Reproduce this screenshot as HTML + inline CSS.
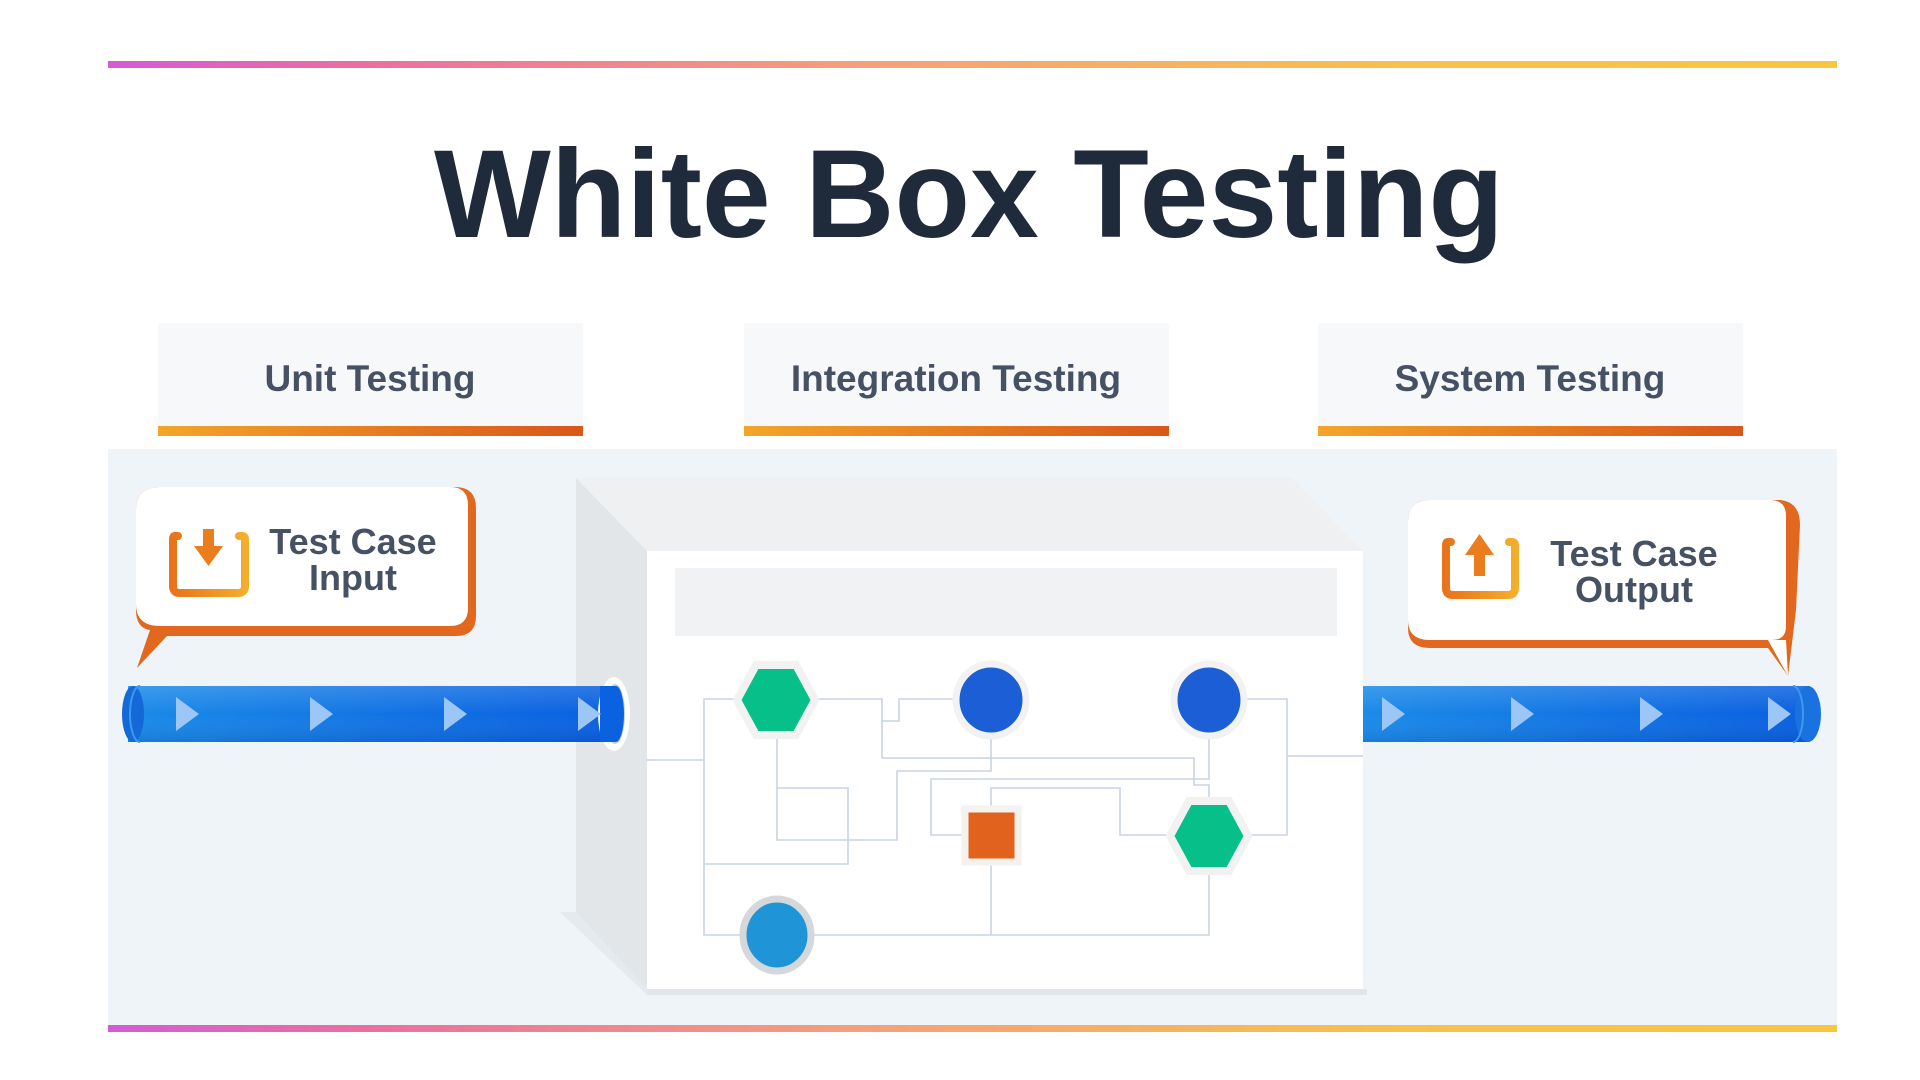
<!DOCTYPE html>
<html><head><meta charset="utf-8"><style>
html,body{margin:0;padding:0;background:#fff;}
svg{display:block;}
text{font-family:"Liberation Sans",Arial,sans-serif;font-weight:bold;}
</style></head><body>
<svg width="1920" height="1080" viewBox="0 0 1920 1080" xmlns="http://www.w3.org/2000/svg">
<defs>
<linearGradient id="rb" x1="0" x2="1" y1="0" y2="0">
<stop offset="0" stop-color="#d45bd6"/><stop offset="0.15" stop-color="#ea6fa0"/><stop offset="0.45" stop-color="#f4a27a"/><stop offset="0.75" stop-color="#f6c14c"/><stop offset="1" stop-color="#f7c640"/>
</linearGradient>
<linearGradient id="ob" x1="0" x2="1"><stop offset="0" stop-color="#f3a52a"/><stop offset="1" stop-color="#d9571a"/></linearGradient>
<linearGradient id="pipe" x1="0" x2="1"><stop offset="0" stop-color="#1a8ae8"/><stop offset="1" stop-color="#0a5fe0"/></linearGradient>
<linearGradient id="pipev" x1="0" x2="0" y1="0" y2="1"><stop offset="0" stop-color="#fff" stop-opacity="0.15"/><stop offset="0.5" stop-color="#fff" stop-opacity="0"/><stop offset="1" stop-color="#003" stop-opacity="0.1"/></linearGradient>
<linearGradient id="ic" x1="0" x2="1"><stop offset="0" stop-color="#e8731c"/><stop offset="1" stop-color="#f5ad2c"/></linearGradient>
</defs>
<rect width="1920" height="1080" fill="#fff"/>
<rect x="108" y="61" width="1729" height="7" fill="url(#rb)"/>
<text x="969" y="237" font-size="125" fill="#1f2a3a" text-anchor="middle" textLength="1070" lengthAdjust="spacingAndGlyphs">White Box Testing</text>

<g>
<rect x="158" y="323" width="425" height="105" fill="#f7f8f9"/>
<rect x="158" y="426" width="425" height="10" fill="url(#ob)"/>
<text x="370" y="391" font-size="37" fill="#465264" text-anchor="middle">Unit Testing</text>
<rect x="744" y="323" width="425" height="105" fill="#f7f8f9"/>
<rect x="744" y="426" width="425" height="10" fill="url(#ob)"/>
<text x="956" y="391" font-size="37" fill="#465264" text-anchor="middle">Integration Testing</text>
<rect x="1318" y="323" width="425" height="105" fill="#f7f8f9"/>
<rect x="1318" y="426" width="425" height="10" fill="url(#ob)"/>
<text x="1530" y="391" font-size="37" fill="#465264" text-anchor="middle">System Testing</text>
</g>

<rect x="108" y="449" width="1729" height="580" fill="#eff4f9"/>
<rect x="108" y="1025" width="1729" height="7" fill="url(#rb)"/>

<polygon points="576,478 1292,478 1363,551 647,551" fill="#eef0f1"/>
<polygon points="576,478 647,551 647,989 576,912" fill="#e3e6e9"/>
<polygon points="560,912 576,912 647,989 647,995" fill="#dde2e7" opacity="0.6"/>
<rect x="647" y="551" width="716" height="438" fill="#fff"/>
<rect x="647" y="989" width="720" height="6" fill="#e2e6ea"/>
<rect x="675" y="568" width="662" height="68" fill="#f1f2f3"/>

<g fill="none" stroke="#c9d4e3" stroke-width="1.6">
<polyline points="646,760 704,760"/>
<polyline points="740,699 704,699 704,935 740,935"/>
<polyline points="812,699 882,699 882,721 899,721 899,699 957,699"/>
<polyline points="882,721 882,758 1194,758 1194,785 1209,785 1209,800"/>
<polyline points="991,733 991,771 897,771 897,840 777,840 777,739"/>
<polyline points="777,788 848,788 848,864 704,864"/>
<polyline points="1209,733 1209,779 931,779 931,835 965,835"/>
<polyline points="991,809 991,788 1120,788 1120,835 1172,835"/>
<polyline points="1243,699 1287,699 1287,835 1246,835"/>
<polyline points="1287,756 1363,756"/>
<polyline points="812,935 1209,935 1209,872"/>
<polyline points="991,862 991,935"/>
</g>

<polygon points="737,700 756,665 796,665 815,700 796,735 756,735" fill="#07c089" stroke="#f2f2f2" stroke-width="8"/>
<ellipse cx="991" cy="700" rx="35" ry="36" fill="#1b5ed6" stroke="#f2f2f2" stroke-width="7"/>
<ellipse cx="1209" cy="700" rx="35" ry="36" fill="#1b5ed6" stroke="#f2f2f2" stroke-width="7"/>
<rect x="965" y="809" width="53" height="53" fill="#e0621d" stroke="#f4f1ef" stroke-width="7"/>
<polygon points="1170,836 1189,801 1229,801 1248,836 1229,871 1189,871" fill="#07c089" stroke="#f2f2f2" stroke-width="8"/>
<ellipse cx="777" cy="935" rx="34" ry="36" fill="#1f95d8" stroke="#d5d8db" stroke-width="7"/>

<rect x="128" y="686" width="488" height="56" fill="url(#pipe)"/>
<rect x="128" y="686" width="488" height="56" fill="url(#pipev)"/>
<ellipse cx="133" cy="714" rx="11" ry="28" fill="#1468d8"/>
<path d="M140,686 A10,28 0 0 0 140,742" fill="none" stroke="#3b9af0" stroke-width="2"/>
<ellipse cx="614" cy="714" rx="16" ry="37" fill="#fff"/>
<ellipse cx="615" cy="714" rx="10" ry="30" fill="#c9ced6"/>
<path d="M600,686 L616,686 A8,28 0 0 1 616,742 L600,742 Z" fill="#0b62e0"/>
<g fill="#9cc6f5">
<polygon points="176,697 199,714 176,731"/>
<polygon points="310,697 333,714 310,731"/>
<polygon points="444,697 467,714 444,731"/>
<polygon points="578,697 601,714 578,731"/>
</g>

<rect x="1363" y="686" width="446" height="56" fill="url(#pipe)"/>
<rect x="1363" y="686" width="446" height="56" fill="url(#pipev)"/>
<ellipse cx="1808" cy="714" rx="13" ry="28" fill="#1a72e0"/>
<path d="M1793,686 A10,28 0 0 1 1793,742" fill="none" stroke="#3b9af0" stroke-width="2"/>
<g fill="#9cc6f5">
<polygon points="1382,697 1405,714 1382,731"/>
<polygon points="1511,697 1534,714 1511,731"/>
<polygon points="1640,697 1663,714 1640,731"/>
<polygon points="1768,697 1791,714 1768,731"/>
</g>

<path d="M160,487 L455,487 Q476,487 476,508 L476,616 Q476,636 456,636 L167,636 L137,668 L150,630 Q136,628 136,610 L136,510 Q136,487 160,487 Z" fill="#e2681f"/>
<path d="M160,487 L450,487 Q468,487 468,505 L468,608 Q468,626 450,626 L160,626 Q136,626 136,604 L136,510 Q136,487 160,487 Z" fill="#fff"/>
<g>
<path d="M178,536 L175,536 Q173,536 173,539 L173,586 Q173,593 180,593 L238,593 Q245,593 245,586 L245,539 Q245,536 242,536 L239,536" fill="none" stroke="url(#ic)" stroke-width="8" stroke-linecap="round"/>
<rect x="203" y="529" width="11" height="19" fill="#ec7d1f"/>
<polygon points="194,546 223,546 208.5,566" fill="#ec7d1f"/>
</g>
<text x="353" y="554" font-size="36" fill="#465264" text-anchor="middle">Test Case</text>
<text x="353" y="590" font-size="36" fill="#465264" text-anchor="middle">Input</text>

<path d="M1430,500 L1780,500 Q1800,502 1800,525 L1796,610 L1788,676 L1768,648 L1430,648 Q1408,648 1408,628 L1408,522 Q1408,500 1430,500 Z" fill="#e2681f"/>
<path d="M1430,500 L1770,500 Q1786,500 1786,516 L1786,626 Q1786,640 1772,640 L1430,640 Q1408,640 1408,620 L1408,522 Q1408,500 1430,500 Z" fill="#fff"/>
<path d="M1768,640 L1786,640 L1788,676 Z" fill="#fff"/>
<g>
<path d="M1451,542 L1448,542 Q1446,542 1446,545 L1446,588 Q1446,595 1453,595 L1508,595 Q1515,595 1515,588 L1515,545 Q1515,542 1512,542 L1509,542" fill="none" stroke="url(#ic)" stroke-width="8" stroke-linecap="round"/>
<polygon points="1465,555 1494,555 1479.5,534" fill="#ec7d1f"/>
<rect x="1474" y="554" width="11" height="22" fill="#ec7d1f"/>
</g>
<text x="1634" y="566" font-size="36" fill="#465264" text-anchor="middle">Test Case</text>
<text x="1634" y="602" font-size="36" fill="#465264" text-anchor="middle">Output</text>
</svg>
</body></html>
